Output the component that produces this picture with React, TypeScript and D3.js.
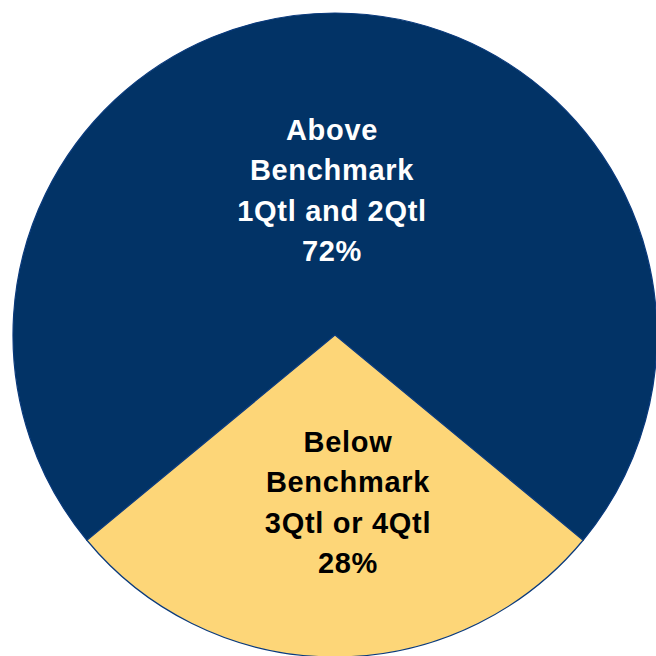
import React from "react";
import * as d3 from "d3";

// Share of funds by benchmark quartile group
const categories = ["Above Benchmark", "Below Benchmark"];
const values = [72, 28];
const labelLines = [
  ["Above", "Benchmark", "1Qtl and 2Qtl", "72%"],
  ["Below", "Benchmark", "3Qtl or 4Qtl", "28%"],
];

const W = 656;
const H = 656;
const CX = 335;
const CY = 335;
const R = 322;

const fills = ["#023366", "#FDD678"];
const textColors = ["#FFFFFF", "#000000"];
// radial position (fraction of R) and horizontal nudge for each label block
const labelRadius = [0.45, 0.52];
const labelNudgeX = [-3, 13];
const LINE_H = 40.5;
const FONT_SIZE = 29;

export default function App() {
  // the smaller slice is centred at the bottom of the circle
  const start = Math.PI + (values[1] / d3.sum(values)) * Math.PI;
  const pie = d3
    .pie<number>()
    .sort(null)
    .startAngle(start)
    .endAngle(start + 2 * Math.PI);
  const arcs = pie(values);
  const arc = d3.arc<d3.PieArcDatum<number>>().innerRadius(0).outerRadius(R);

  return (
    <svg
      width={W}
      height={H}
      style={{ position: "absolute", left: 0, top: 0, display: "block" }}
    >
      <rect width={W} height={H} fill="#FFFFFF" />
      <g transform={`translate(${CX},${CY})`}>
        {arcs.map((a, i) => (
          <path
            key={categories[i]}
            d={arc(a) || ""}
            fill={fills[i]}
            stroke="#0A3A7C"
            strokeWidth={1.2}
            strokeLinejoin="miter"
          />
        ))}
        {arcs.map((a, i) => {
          const mid = (a.startAngle + a.endAngle) / 2;
          const rho = labelRadius[i] * R;
          const x = Math.sin(mid) * rho + labelNudgeX[i];
          const y = -Math.cos(mid) * rho;
          const lines = labelLines[i];
          const firstBaseline =
            y - ((lines.length - 1) * LINE_H) / 2 + FONT_SIZE * 0.35;
          return (
            <text
              key={`lbl-${categories[i]}`}
              textAnchor="middle"
              fill={textColors[i]}
              fontFamily="'Liberation Sans', Arial, sans-serif"
              fontWeight="bold"
              fontSize={FONT_SIZE}
              letterSpacing={0.7}
            >
              {lines.map((ln, j) => (
                <tspan key={j} x={x} y={firstBaseline + j * LINE_H}>
                  {ln}
                </tspan>
              ))}
            </text>
          );
        })}
      </g>
    </svg>
  );
}
